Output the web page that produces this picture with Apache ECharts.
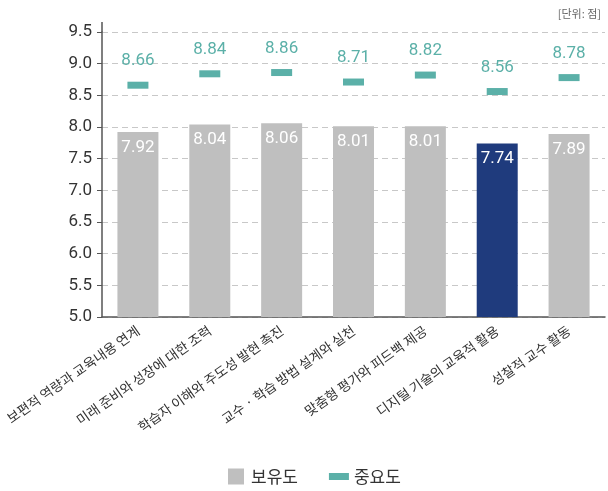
<!DOCTYPE html>
<html><head><meta charset="utf-8">
<script src="https://cdn.jsdelivr.net/npm/echarts@6/dist/echarts.min.js"></script>
<style>html,body{margin:0;padding:0;background:#fff}#c{width:608px;height:491px}</style>
</head><body><div id="c"></div>
<script>
const categories = ['보편적 역량과 교육내용 연계','미래 준비와 성장에 대한 조력','학습자 이해와 주도성 발현 촉진','교수 · 학습 방법 설계와 실천','맞춤형 평가와 피드백 제공','디지털 기술의 교육적 활용','성찰적 교수 활동'];
const possession = [7.92, 8.04, 8.06, 8.01, 8.01, 7.74, 7.89];
const importance = [8.66, 8.84, 8.86, 8.71, 8.82, 8.56, 8.78];
const highlightIndex = 5;
const yTicks = {min: 5.0, max: 9.5, interval: 0.5};

const FONT = 'Roboto, "Noto Sans CJK KR", sans-serif';
const KFONT = '"Noto Sans CJK KR", sans-serif';
const chart = echarts.init(document.getElementById('c'), null, {renderer: 'canvas'});
chart.setOption({
  animation: false,
  backgroundColor: '#fff',
  title: {text: '[단위: 점]', right: 2, top: 3, textStyle: {fontFamily: KFONT, fontSize: 11, fontWeight: 'normal', color: '#666'}},
  grid: {left: 102, right: 3, top: 32, bottom: 174, containLabel: false, outerBoundsMode: 'none'},
  legend: {
    bottom: 1, left: 223, itemGap: 31, itemWidth: 20, itemHeight: 16,
    textStyle: {fontFamily: KFONT, fontSize: 17, color: '#333'},
    data: [
      {name: '보유도', icon: 'path://M0,0 H16 V16 H0 Z', itemStyle: {color: '#bfbfbf'}},
      {name: '중요도', icon: 'path://M0,0 H20 V7 H0 Z', itemStyle: {color: '#5bb0a8'}}
    ]
  },
  xAxis: {
    type: 'category', data: categories,
    axisLine: {lineStyle: {color: '#555', width: 1.5}},
    axisTick: {show: false},
    axisLabel: {rotate: 35, interval: 0, fontFamily: KFONT, fontSize: 13.5, color: '#333', margin: 12}
  },
  yAxis: {
    type: 'value', min: yTicks.min, max: yTicks.max, interval: yTicks.interval,
    axisLine: {show: true, lineStyle: {color: '#555', width: 1.5}},
    axisTick: {show: true, length: 5, lineStyle: {color: '#555'}},
    axisLabel: {fontFamily: FONT, fontSize: 17, color: '#333', margin: 10, formatter: v => v.toFixed(1)},
    splitLine: {lineStyle: {type: [6, 4], color: '#c8c8c8'}}
  },
  series: [
    {
      name: '보유도', type: 'bar', barWidth: 41,
      data: possession.map((v, i) => ({value: v, itemStyle: {color: i === highlightIndex ? '#1f3b7d' : '#bfbfbf'}})),
      label: {show: true, position: 'insideTop', distance: 7, color: '#fff', fontFamily: FONT, fontSize: 17, formatter: p => p.value.toFixed(2)}
    },
    {
      name: '중요도', type: 'scatter', symbol: 'rect', symbolSize: [21, 7],
      itemStyle: {color: '#5bb0a8', opacity: 1}, z: 5,
      data: importance,
      label: {show: true, position: 'top', distance: 12, color: '#5bb0a8', fontFamily: FONT, fontSize: 17, formatter: p => p.value.toFixed(2)}
    }
  ]
});
// extend the y axis line slightly above the top tick, as in the reference
const topPt = chart.convertToPixel({gridIndex: 0}, [0, yTicks.max]);
const axisX = chart.getModel().getComponent('grid', 0).coordinateSystem.getRect().x;
chart.setOption({
  graphic: [{type: 'line', silent: true, shape: {x1: axisX, y1: topPt[1] - 10, x2: axisX, y2: topPt[1]}, style: {stroke: '#555', lineWidth: 1.5}}]
});
</script></body></html>
